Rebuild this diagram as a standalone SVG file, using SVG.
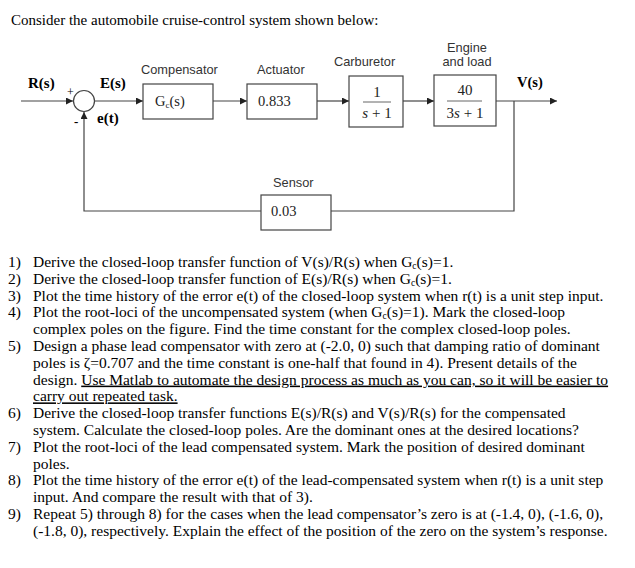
<svg xmlns="http://www.w3.org/2000/svg" width="635" height="568" viewBox="0 0 635 568">
<style>
.t{font-family:"Liberation Serif","Times New Roman",serif;font-size:15.5px;fill:#000}
.lab{font-family:"Liberation Sans",Arial,sans-serif;font-size:12.8px;fill:#333}
.bl{font-family:"Liberation Serif","Times New Roman",serif;font-size:15px;font-weight:bold;fill:#000}
.bx{fill:#fff;stroke:#444;stroke-width:1.2}
.ln{fill:none;stroke:#444;stroke-width:1.2}
.bt{font-family:"Liberation Serif","Times New Roman",serif;font-size:14.5px;fill:#222}
.fr{font-family:"Liberation Serif","Times New Roman",serif;font-size:15px;fill:#222}
.u{text-decoration:underline}
</style>
<defs>
<marker id="ah" viewBox="0 0 10 10" refX="10" refY="5" markerWidth="7" markerHeight="7" markerUnits="userSpaceOnUse" orient="auto">
<path d="M0,0 L10,5 L0,10 z" fill="#222"/>
</marker>
</defs>
<rect width="635" height="568" fill="#fff"/>
<text class="t" x="11" y="25" style="font-size:15px">Consider the automobile cruise-control system shown below:</text>

<g id="connectors">
<line class="ln" x1="21" y1="101" x2="73" y2="101" marker-end="url(#ah)"/>
<line class="ln" x1="95" y1="101" x2="143" y2="101" marker-end="url(#ah)"/>
<line class="ln" x1="213" y1="101" x2="247" y2="101" marker-end="url(#ah)"/>
<line class="ln" x1="317" y1="101" x2="349" y2="101" marker-end="url(#ah)"/>
<line class="ln" x1="403" y1="101" x2="434" y2="101" marker-end="url(#ah)"/>
<line class="ln" x1="496" y1="101" x2="557" y2="101" marker-end="url(#ah)"/>
<polyline class="ln" points="514,101 514,211 331,211"/>
<polyline class="ln" points="261,211 84,211 84,112" marker-end="url(#ah)"/>
</g>

<g id="sum">
<circle cx="84" cy="101" r="10.5" fill="#fff" stroke="#444" stroke-width="1.2"/>
<text class="bl" x="67" y="96" style="font-size:12px;font-weight:normal">+</text>
<text class="bl" x="74" y="126" style="font-size:13px">-</text>
</g>
<text class="bl" x="28" y="88">R(s)</text>
<text class="bl" x="100" y="88">E(s)</text>
<text class="bl" x="97" y="123">e(t)</text>
<text class="bl" x="517" y="87" style="font-size:14.5px">V(s)</text>

<g id="compensator">
<text class="lab" x="141" y="74">Compensator</text>
<rect class="bx" x="143" y="84" width="70" height="35"/>
<text class="bt" x="155" y="106">G<tspan font-size="9" dy="2">c</tspan><tspan dy="-2">(s)</tspan></text>
</g>
<g id="actuator">
<text class="lab" x="257" y="74">Actuator</text>
<rect class="bx" x="247" y="84" width="70" height="35"/>
<text class="bt" x="258" y="106">0.833</text>
</g>
<g id="carburetor">
<text class="lab" x="334" y="66">Carburetor</text>
<rect class="bx" x="349" y="76" width="54" height="51"/>
<text class="fr" x="377" y="97" text-anchor="middle">1</text>
<line x1="363" y1="102" x2="391" y2="102" stroke="#666" stroke-width="1"/>
<text class="fr" x="377" y="118" text-anchor="middle"><tspan font-style="italic">s</tspan> + 1</text>
</g>
<g id="engine">
<text class="lab" x="467" y="52" text-anchor="middle">Engine</text>
<text class="lab" x="467" y="66" text-anchor="middle">and load</text>
<rect class="bx" x="434" y="75" width="62" height="51"/>
<text class="fr" x="465" y="95" text-anchor="middle">40</text>
<line x1="447" y1="101" x2="482" y2="101" stroke="#666" stroke-width="1"/>
<text class="fr" x="465" y="118" text-anchor="middle">3<tspan font-style="italic">s</tspan> + 1</text>
</g>
<g id="sensor">
<text class="lab" x="273" y="187">Sensor</text>
<rect class="bx" x="261" y="195" width="70" height="35"/>
<text class="bt" x="271" y="216">0.03</text>
</g>

<g id="questions" class="t">
<text x="8" y="267">1)</text><text x="33" y="267">Derive the closed-loop transfer function of V(s)/R(s) when G<tspan font-size="9.5" dy="2">c</tspan><tspan dy="-2">(s)=1.</tspan></text>
<text x="8" y="283.8">2)</text><text x="33" y="283.8">Derive the closed-loop transfer function of E(s)/R(s) when G<tspan font-size="9.5" dy="2">c</tspan><tspan dy="-2">(s)=1.</tspan></text>
<text x="8" y="300.6">3)</text><text x="33" y="300.6">Plot the time history of the error e(t) of the closed-loop system when r(t) is a unit step input.</text>
<text x="8" y="317.4">4)</text><text x="33" y="317.4">Plot the root-loci of the uncompensated system (when G<tspan font-size="9.5" dy="2">c</tspan><tspan dy="-2">(s)=1). Mark the closed-loop</tspan></text>
<text x="33" y="334.2">complex poles on the figure. Find the time constant for the complex closed-loop poles.</text>
<text x="8" y="351">5)</text><text x="33" y="351">Design a phase lead compensator with zero at (-2.0, 0) such that damping ratio of dominant</text>
<text x="33" y="367.8">poles is ζ=0.707 and the time constant is one-half that found in 4). Present details of the</text>
<text x="33" y="384.6">design. <tspan class="u">Use Matlab to automate the design process as much as you can, so it will be easier to</tspan></text>
<text x="33" y="401.4" class="u">carry out repeated task.</text>
<text x="8" y="418.2">6)</text><text x="33" y="418.2">Derive the closed-loop transfer functions E(s)/R(s) and V(s)/R(s) for the compensated</text>
<text x="33" y="435">system. Calculate the closed-loop poles. Are the dominant ones at the desired locations?</text>
<text x="8" y="451.8">7)</text><text x="33" y="451.8">Plot the root-loci of the lead compensated system. Mark the position of desired dominant</text>
<text x="33" y="468.6">poles.</text>
<text x="8" y="485.4">8)</text><text x="33" y="485.4">Plot the time history of the error e(t) of the lead-compensated system when r(t) is a unit step</text>
<text x="33" y="502.2">input. And compare the result with that of 3).</text>
<text x="8" y="519">9)</text><text x="33" y="519">Repeat 5) through 8) for the cases when the lead compensator’s zero is at (-1.4, 0), (-1.6, 0),</text>
<text x="33" y="535.8">(-1.8, 0), respectively. Explain the effect of the position of the zero on the system’s response.</text>
</g>
</svg>
